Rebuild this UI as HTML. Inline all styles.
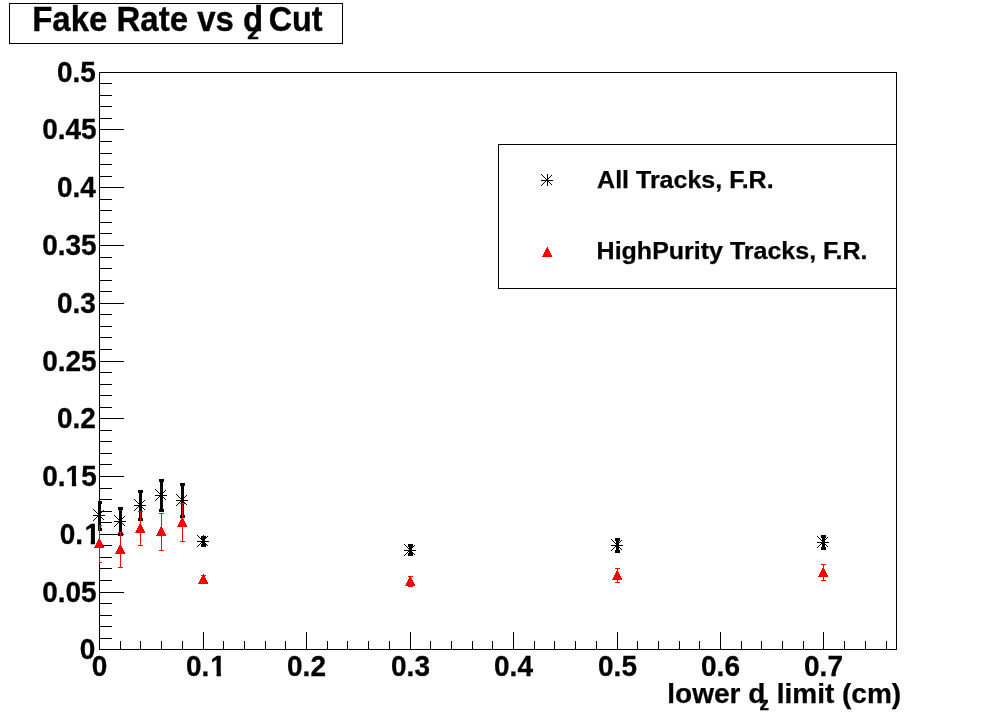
<!DOCTYPE html>
<html><head><meta charset="utf-8"><title>Fake Rate vs dz Cut</title>
<style>
html,body{margin:0;padding:0;background:#fff;overflow:hidden}
svg{display:block}
text{stroke:#000;stroke-width:.25px;font-family:"Liberation Sans",sans-serif;font-weight:bold;fill:#000;font-kerning:none}
text.s{stroke-width:.35px}
text.t{stroke-width:.3px}
</style></head><body>
<svg width="996" height="722" viewBox="0 0 996 722">
<defs><clipPath id="one"><path d="M-6 -32H28V-5H11.35V2H6.75V-5H-6Z"/></clipPath></defs>
<rect x="0" y="0" width="996" height="722" fill="#fff"/>
<g shape-rendering="crispEdges">
<rect x="99" y="72" width="798" height="1" fill="#000"/>
<rect x="99" y="649" width="798" height="1" fill="#000"/>
<rect x="99" y="72" width="1" height="578" fill="#000"/>
<rect x="896" y="72" width="1" height="578" fill="#000"/>
<rect x="100" y="649" width="24" height="1" fill="#000"/>
<rect x="100" y="638" width="12" height="1" fill="#000"/>
<rect x="100" y="626" width="12" height="1" fill="#000"/>
<rect x="100" y="615" width="12" height="1" fill="#000"/>
<rect x="100" y="603" width="12" height="1" fill="#000"/>
<rect x="100" y="592" width="24" height="1" fill="#000"/>
<rect x="100" y="580" width="12" height="1" fill="#000"/>
<rect x="100" y="568" width="12" height="1" fill="#000"/>
<rect x="100" y="557" width="12" height="1" fill="#000"/>
<rect x="100" y="545" width="12" height="1" fill="#000"/>
<rect x="100" y="534" width="24" height="1" fill="#000"/>
<rect x="100" y="522" width="12" height="1" fill="#000"/>
<rect x="100" y="511" width="12" height="1" fill="#000"/>
<rect x="100" y="499" width="12" height="1" fill="#000"/>
<rect x="100" y="488" width="12" height="1" fill="#000"/>
<rect x="100" y="476" width="24" height="1" fill="#000"/>
<rect x="100" y="464" width="12" height="1" fill="#000"/>
<rect x="100" y="453" width="12" height="1" fill="#000"/>
<rect x="100" y="441" width="12" height="1" fill="#000"/>
<rect x="100" y="430" width="12" height="1" fill="#000"/>
<rect x="100" y="418" width="24" height="1" fill="#000"/>
<rect x="100" y="407" width="12" height="1" fill="#000"/>
<rect x="100" y="395" width="12" height="1" fill="#000"/>
<rect x="100" y="384" width="12" height="1" fill="#000"/>
<rect x="100" y="372" width="12" height="1" fill="#000"/>
<rect x="100" y="361" width="24" height="1" fill="#000"/>
<rect x="100" y="349" width="12" height="1" fill="#000"/>
<rect x="100" y="337" width="12" height="1" fill="#000"/>
<rect x="100" y="326" width="12" height="1" fill="#000"/>
<rect x="100" y="314" width="12" height="1" fill="#000"/>
<rect x="100" y="303" width="24" height="1" fill="#000"/>
<rect x="100" y="291" width="12" height="1" fill="#000"/>
<rect x="100" y="280" width="12" height="1" fill="#000"/>
<rect x="100" y="268" width="12" height="1" fill="#000"/>
<rect x="100" y="257" width="12" height="1" fill="#000"/>
<rect x="100" y="245" width="24" height="1" fill="#000"/>
<rect x="100" y="233" width="12" height="1" fill="#000"/>
<rect x="100" y="222" width="12" height="1" fill="#000"/>
<rect x="100" y="210" width="12" height="1" fill="#000"/>
<rect x="100" y="199" width="12" height="1" fill="#000"/>
<rect x="100" y="187" width="24" height="1" fill="#000"/>
<rect x="100" y="176" width="12" height="1" fill="#000"/>
<rect x="100" y="164" width="12" height="1" fill="#000"/>
<rect x="100" y="153" width="12" height="1" fill="#000"/>
<rect x="100" y="141" width="12" height="1" fill="#000"/>
<rect x="100" y="129" width="24" height="1" fill="#000"/>
<rect x="100" y="118" width="12" height="1" fill="#000"/>
<rect x="100" y="106" width="12" height="1" fill="#000"/>
<rect x="100" y="95" width="12" height="1" fill="#000"/>
<rect x="100" y="83" width="12" height="1" fill="#000"/>
<rect x="100" y="72" width="24" height="1" fill="#000"/>
<rect x="99" y="632" width="1" height="17" fill="#000"/>
<rect x="120" y="641" width="1" height="8" fill="#000"/>
<rect x="140" y="641" width="1" height="8" fill="#000"/>
<rect x="161" y="641" width="1" height="8" fill="#000"/>
<rect x="182" y="641" width="1" height="8" fill="#000"/>
<rect x="203" y="632" width="1" height="17" fill="#000"/>
<rect x="223" y="641" width="1" height="8" fill="#000"/>
<rect x="244" y="641" width="1" height="8" fill="#000"/>
<rect x="265" y="641" width="1" height="8" fill="#000"/>
<rect x="285" y="641" width="1" height="8" fill="#000"/>
<rect x="306" y="632" width="1" height="17" fill="#000"/>
<rect x="327" y="641" width="1" height="8" fill="#000"/>
<rect x="347" y="641" width="1" height="8" fill="#000"/>
<rect x="368" y="641" width="1" height="8" fill="#000"/>
<rect x="389" y="641" width="1" height="8" fill="#000"/>
<rect x="410" y="632" width="1" height="17" fill="#000"/>
<rect x="430" y="641" width="1" height="8" fill="#000"/>
<rect x="451" y="641" width="1" height="8" fill="#000"/>
<rect x="472" y="641" width="1" height="8" fill="#000"/>
<rect x="492" y="641" width="1" height="8" fill="#000"/>
<rect x="513" y="632" width="1" height="17" fill="#000"/>
<rect x="534" y="641" width="1" height="8" fill="#000"/>
<rect x="554" y="641" width="1" height="8" fill="#000"/>
<rect x="575" y="641" width="1" height="8" fill="#000"/>
<rect x="596" y="641" width="1" height="8" fill="#000"/>
<rect x="617" y="632" width="1" height="17" fill="#000"/>
<rect x="637" y="641" width="1" height="8" fill="#000"/>
<rect x="658" y="641" width="1" height="8" fill="#000"/>
<rect x="679" y="641" width="1" height="8" fill="#000"/>
<rect x="699" y="641" width="1" height="8" fill="#000"/>
<rect x="720" y="632" width="1" height="17" fill="#000"/>
<rect x="741" y="641" width="1" height="8" fill="#000"/>
<rect x="761" y="641" width="1" height="8" fill="#000"/>
<rect x="782" y="641" width="1" height="8" fill="#000"/>
<rect x="803" y="641" width="1" height="8" fill="#000"/>
<rect x="823" y="632" width="1" height="17" fill="#000"/>
<rect x="844" y="641" width="1" height="8" fill="#000"/>
<rect x="865" y="641" width="1" height="8" fill="#000"/>
<rect x="886" y="641" width="1" height="8" fill="#000"/>
<rect x="9" y="3" width="334" height="1" fill="#000"/>
<rect x="9" y="43" width="334" height="1" fill="#000"/>
<rect x="9" y="3" width="1" height="41" fill="#000"/>
<rect x="342" y="3" width="1" height="41" fill="#000"/>
<rect x="498" y="144" width="399" height="1" fill="#000"/>
<rect x="498" y="288" width="399" height="1" fill="#000"/>
<rect x="498" y="144" width="1" height="145" fill="#000"/>
<rect x="896" y="144" width="1" height="145" fill="#000"/>
<g id="black">
<rect x="98" y="501" width="3" height="30" fill="#000"/>
<rect x="98" y="501" width="4" height="3" fill="#000"/>
<rect x="98" y="528" width="4" height="3" fill="#000"/>
<rect x="93" y="515" width="12" height="1" fill="#000"/>
<rect x="99" y="509" width="1" height="12" fill="#000"/>
<path d="M93 509h1v1h-1zM94 510h1v1h-1zM95 511h1v1h-1zM96 512h1v1h-1zM97 513h1v1h-1zM98 514h1v1h-1zM99 515h1v1h-1zM100 516h1v1h-1zM101 517h1v1h-1zM102 518h1v1h-1zM103 519h1v1h-1zM93 520h1v1h-1zM94 519h1v1h-1zM95 518h1v1h-1zM96 517h1v1h-1zM97 516h1v1h-1zM98 515h1v1h-1zM99 514h1v1h-1zM100 513h1v1h-1zM101 512h1v1h-1zM102 511h1v1h-1zM103 510h1v1h-1z" fill="#000"/>
<rect x="119" y="507" width="3" height="29" fill="#000"/>
<rect x="118" y="507" width="5" height="3" fill="#000"/>
<rect x="118" y="533" width="5" height="3" fill="#000"/>
<rect x="114" y="521" width="12" height="1" fill="#000"/>
<rect x="120" y="515" width="1" height="12" fill="#000"/>
<path d="M114 515h1v1h-1zM115 516h1v1h-1zM116 517h1v1h-1zM117 518h1v1h-1zM118 519h1v1h-1zM119 520h1v1h-1zM120 521h1v1h-1zM121 522h1v1h-1zM122 523h1v1h-1zM123 524h1v1h-1zM124 525h1v1h-1zM114 526h1v1h-1zM115 525h1v1h-1zM116 524h1v1h-1zM117 523h1v1h-1zM118 522h1v1h-1zM119 521h1v1h-1zM120 520h1v1h-1zM121 519h1v1h-1zM122 518h1v1h-1zM123 517h1v1h-1zM124 516h1v1h-1z" fill="#000"/>
<rect x="139" y="490" width="3" height="31" fill="#000"/>
<rect x="138" y="490" width="5" height="3" fill="#000"/>
<rect x="138" y="518" width="5" height="3" fill="#000"/>
<rect x="134" y="505" width="12" height="1" fill="#000"/>
<rect x="140" y="499" width="1" height="12" fill="#000"/>
<path d="M134 499h1v1h-1zM135 500h1v1h-1zM136 501h1v1h-1zM137 502h1v1h-1zM138 503h1v1h-1zM139 504h1v1h-1zM140 505h1v1h-1zM141 506h1v1h-1zM142 507h1v1h-1zM143 508h1v1h-1zM144 509h1v1h-1zM134 510h1v1h-1zM135 509h1v1h-1zM136 508h1v1h-1zM137 507h1v1h-1zM138 506h1v1h-1zM139 505h1v1h-1zM140 504h1v1h-1zM141 503h1v1h-1zM142 502h1v1h-1zM143 501h1v1h-1zM144 500h1v1h-1z" fill="#000"/>
<rect x="160" y="479" width="3" height="33" fill="#000"/>
<rect x="159" y="479" width="5" height="3" fill="#000"/>
<rect x="159" y="509" width="5" height="3" fill="#000"/>
<rect x="155" y="495" width="12" height="1" fill="#000"/>
<rect x="161" y="489" width="1" height="12" fill="#000"/>
<path d="M155 489h1v1h-1zM156 490h1v1h-1zM157 491h1v1h-1zM158 492h1v1h-1zM159 493h1v1h-1zM160 494h1v1h-1zM161 495h1v1h-1zM162 496h1v1h-1zM163 497h1v1h-1zM164 498h1v1h-1zM165 499h1v1h-1zM155 500h1v1h-1zM156 499h1v1h-1zM157 498h1v1h-1zM158 497h1v1h-1zM159 496h1v1h-1zM160 495h1v1h-1zM161 494h1v1h-1zM162 493h1v1h-1zM163 492h1v1h-1zM164 491h1v1h-1zM165 490h1v1h-1z" fill="#000"/>
<rect x="181" y="483" width="3" height="35" fill="#000"/>
<rect x="180" y="483" width="5" height="3" fill="#000"/>
<rect x="180" y="515" width="5" height="3" fill="#000"/>
<rect x="176" y="500" width="12" height="1" fill="#000"/>
<rect x="182" y="494" width="1" height="12" fill="#000"/>
<path d="M176 494h1v1h-1zM177 495h1v1h-1zM178 496h1v1h-1zM179 497h1v1h-1zM180 498h1v1h-1zM181 499h1v1h-1zM182 500h1v1h-1zM183 501h1v1h-1zM184 502h1v1h-1zM185 503h1v1h-1zM186 504h1v1h-1zM176 505h1v1h-1zM177 504h1v1h-1zM178 503h1v1h-1zM179 502h1v1h-1zM180 501h1v1h-1zM181 500h1v1h-1zM182 499h1v1h-1zM183 498h1v1h-1zM184 497h1v1h-1zM185 496h1v1h-1zM186 495h1v1h-1z" fill="#000"/>
<rect x="202" y="536" width="3" height="11" fill="#000"/>
<rect x="201" y="536" width="5" height="3" fill="#000"/>
<rect x="201" y="544" width="5" height="3" fill="#000"/>
<rect x="197" y="541" width="12" height="1" fill="#000"/>
<rect x="203" y="535" width="1" height="12" fill="#000"/>
<path d="M197 535h1v1h-1zM198 536h1v1h-1zM199 537h1v1h-1zM200 538h1v1h-1zM201 539h1v1h-1zM202 540h1v1h-1zM203 541h1v1h-1zM204 542h1v1h-1zM205 543h1v1h-1zM206 544h1v1h-1zM207 545h1v1h-1zM197 546h1v1h-1zM198 545h1v1h-1zM199 544h1v1h-1zM200 543h1v1h-1zM201 542h1v1h-1zM202 541h1v1h-1zM203 540h1v1h-1zM204 539h1v1h-1zM205 538h1v1h-1zM206 537h1v1h-1zM207 536h1v1h-1z" fill="#000"/>
<rect x="409" y="544" width="3" height="12" fill="#000"/>
<rect x="408" y="544" width="5" height="3" fill="#000"/>
<rect x="408" y="553" width="5" height="3" fill="#000"/>
<rect x="404" y="550" width="12" height="1" fill="#000"/>
<rect x="410" y="544" width="1" height="12" fill="#000"/>
<path d="M404 544h1v1h-1zM405 545h1v1h-1zM406 546h1v1h-1zM407 547h1v1h-1zM408 548h1v1h-1zM409 549h1v1h-1zM410 550h1v1h-1zM411 551h1v1h-1zM412 552h1v1h-1zM413 553h1v1h-1zM414 554h1v1h-1zM404 555h1v1h-1zM405 554h1v1h-1zM406 553h1v1h-1zM407 552h1v1h-1zM408 551h1v1h-1zM409 550h1v1h-1zM410 549h1v1h-1zM411 548h1v1h-1zM412 547h1v1h-1zM413 546h1v1h-1zM414 545h1v1h-1z" fill="#000"/>
<rect x="616" y="538" width="3" height="15" fill="#000"/>
<rect x="615" y="538" width="5" height="3" fill="#000"/>
<rect x="615" y="550" width="5" height="3" fill="#000"/>
<rect x="611" y="545" width="12" height="1" fill="#000"/>
<rect x="617" y="539" width="1" height="12" fill="#000"/>
<path d="M611 539h1v1h-1zM612 540h1v1h-1zM613 541h1v1h-1zM614 542h1v1h-1zM615 543h1v1h-1zM616 544h1v1h-1zM617 545h1v1h-1zM618 546h1v1h-1zM619 547h1v1h-1zM620 548h1v1h-1zM621 549h1v1h-1zM611 550h1v1h-1zM612 549h1v1h-1zM613 548h1v1h-1zM614 547h1v1h-1zM615 546h1v1h-1zM616 545h1v1h-1zM617 544h1v1h-1zM618 543h1v1h-1zM619 542h1v1h-1zM620 541h1v1h-1zM621 540h1v1h-1z" fill="#000"/>
<rect x="822" y="535" width="3" height="15" fill="#000"/>
<rect x="821" y="535" width="5" height="3" fill="#000"/>
<rect x="821" y="547" width="5" height="3" fill="#000"/>
<rect x="817" y="542" width="12" height="1" fill="#000"/>
<rect x="823" y="536" width="1" height="12" fill="#000"/>
<path d="M817 536h1v1h-1zM818 537h1v1h-1zM819 538h1v1h-1zM820 539h1v1h-1zM821 540h1v1h-1zM822 541h1v1h-1zM823 542h1v1h-1zM824 543h1v1h-1zM825 544h1v1h-1zM826 545h1v1h-1zM827 546h1v1h-1zM817 547h1v1h-1zM818 546h1v1h-1zM819 545h1v1h-1zM820 544h1v1h-1zM821 543h1v1h-1zM822 542h1v1h-1zM823 541h1v1h-1zM824 540h1v1h-1zM825 539h1v1h-1zM826 538h1v1h-1zM827 537h1v1h-1z" fill="#000"/>
</g><g id="red">
<rect x="99" y="525" width="1" height="38" fill="#f00"/>
<rect x="99" y="525" width="3" height="1" fill="#f00"/>
<rect x="99" y="562" width="3" height="1" fill="#f00"/>
<path d="M99 538h1v1h-1zM98 539h2v1h-2zM98 540h3v1h-3zM97 541h4v1h-4zM97 542h5v1h-5zM96 543h6v1h-6zM96 544h7v1h-7zM95 545h8v1h-8zM95 546h9v1h-9zM94 547h10v1h-10z" fill="#f00"/>
<rect x="120" y="532" width="1" height="36" fill="#f00"/>
<rect x="118" y="532" width="5" height="1" fill="#f00"/>
<rect x="118" y="567" width="5" height="1" fill="#f00"/>
<path d="M120 544h1v1h-1zM119 545h2v1h-2zM119 546h3v1h-3zM118 547h4v1h-4zM118 548h5v1h-5zM117 549h6v1h-6zM117 550h7v1h-7zM116 551h8v1h-8zM116 552h9v1h-9zM115 553h10v1h-10z" fill="#f00"/>
<rect x="140" y="511" width="1" height="35" fill="#f00"/>
<rect x="138" y="511" width="5" height="1" fill="#f00"/>
<rect x="138" y="545" width="5" height="1" fill="#f00"/>
<path d="M140 523h1v1h-1zM139 524h2v1h-2zM139 525h3v1h-3zM138 526h4v1h-4zM138 527h5v1h-5zM137 528h6v1h-6zM137 529h7v1h-7zM136 530h8v1h-8zM136 531h9v1h-9zM135 532h10v1h-10z" fill="#f00"/>
<rect x="161" y="513" width="1" height="38" fill="#f00"/>
<rect x="159" y="513" width="5" height="1" fill="#f00"/>
<rect x="159" y="550" width="5" height="1" fill="#f00"/>
<path d="M161 526h1v1h-1zM160 527h2v1h-2zM160 528h3v1h-3zM159 529h4v1h-4zM159 530h5v1h-5zM158 531h6v1h-6zM158 532h7v1h-7zM157 533h8v1h-8zM157 534h9v1h-9zM156 535h10v1h-10z" fill="#f00"/>
<rect x="182" y="503" width="1" height="39" fill="#f00"/>
<rect x="180" y="503" width="5" height="1" fill="#f00"/>
<rect x="180" y="541" width="5" height="1" fill="#f00"/>
<path d="M182 517h1v1h-1zM181 518h2v1h-2zM181 519h3v1h-3zM180 520h4v1h-4zM180 521h5v1h-5zM179 522h6v1h-6zM179 523h7v1h-7zM178 524h8v1h-8zM178 525h9v1h-9zM177 526h10v1h-10z" fill="#f00"/>
<rect x="203" y="575" width="1" height="9" fill="#f00"/>
<rect x="201" y="575" width="5" height="1" fill="#f00"/>
<rect x="201" y="583" width="5" height="1" fill="#f00"/>
<path d="M203 574h1v1h-1zM202 575h2v1h-2zM202 576h3v1h-3zM201 577h4v1h-4zM201 578h5v1h-5zM200 579h6v1h-6zM200 580h7v1h-7zM199 581h8v1h-8zM199 582h9v1h-9zM198 583h10v1h-10z" fill="#f00"/>
<rect x="410" y="576" width="1" height="11" fill="#f00"/>
<rect x="408" y="576" width="5" height="1" fill="#f00"/>
<rect x="408" y="586" width="5" height="1" fill="#f00"/>
<path d="M410 576h1v1h-1zM409 577h2v1h-2zM409 578h3v1h-3zM408 579h4v1h-4zM408 580h5v1h-5zM407 581h6v1h-6zM407 582h7v1h-7zM406 583h8v1h-8zM406 584h9v1h-9zM405 585h10v1h-10z" fill="#f00"/>
<rect x="617" y="568" width="1" height="15" fill="#f00"/>
<rect x="615" y="568" width="5" height="1" fill="#f00"/>
<rect x="615" y="582" width="5" height="1" fill="#f00"/>
<path d="M617 570h1v1h-1zM616 571h2v1h-2zM616 572h3v1h-3zM615 573h4v1h-4zM615 574h5v1h-5zM614 575h6v1h-6zM614 576h7v1h-7zM613 577h8v1h-8zM613 578h9v1h-9zM612 579h10v1h-10z" fill="#f00"/>
<rect x="823" y="564" width="1" height="17" fill="#f00"/>
<rect x="821" y="564" width="5" height="1" fill="#f00"/>
<rect x="821" y="580" width="5" height="1" fill="#f00"/>
<path d="M823 567h1v1h-1zM822 568h2v1h-2zM822 569h3v1h-3zM821 570h4v1h-4zM821 571h5v1h-5zM820 572h6v1h-6zM820 573h7v1h-7zM819 574h8v1h-8zM819 575h9v1h-9zM818 576h10v1h-10z" fill="#f00"/>
</g>
<rect x="541" y="180" width="12" height="1" fill="#000"/>
<rect x="547" y="174" width="1" height="12" fill="#000"/>
<path d="M541 174h1v1h-1zM542 175h1v1h-1zM543 176h1v1h-1zM544 177h1v1h-1zM545 178h1v1h-1zM546 179h1v1h-1zM547 180h1v1h-1zM548 181h1v1h-1zM549 182h1v1h-1zM550 183h1v1h-1zM551 184h1v1h-1zM541 185h1v1h-1zM542 184h1v1h-1zM543 183h1v1h-1zM544 182h1v1h-1zM545 181h1v1h-1zM546 180h1v1h-1zM547 179h1v1h-1zM548 178h1v1h-1zM549 177h1v1h-1zM550 176h1v1h-1zM551 175h1v1h-1z" fill="#000"/>
<path d="M547 247h1v1h-1zM546 248h2v1h-2zM546 249h3v1h-3zM545 250h4v1h-4zM545 251h5v1h-5zM544 252h6v1h-6zM544 253h7v1h-7zM543 254h8v1h-8zM543 255h9v1h-9zM542 256h10v1h-10z" fill="#f00"/>
</g>
<g>
<text transform="translate(79.83,658.8) scale(0.9333,1)" font-size="30" class="t">0</text>
<text transform="translate(42.21,601.8) scale(0.9333,1)" font-size="30" class="t">0.05</text>
<text transform="translate(59.78,543.8) scale(0.9333,1)" font-size="30" class="t">0.</text>
<text transform="translate(84.43,543.8) scale(0.9333,1)" font-size="30" class="t" clip-path="url(#one)">1</text>
<text transform="translate(42.21,485.8) scale(0.9333,1)" font-size="30" class="t">0.</text>
<text transform="translate(65.56,485.8) scale(0.9333,1)" font-size="30" class="t" clip-path="url(#one)">1</text>
<text transform="translate(81.13,485.8) scale(0.9333,1)" font-size="30" class="t">5</text>
<text transform="translate(56.98,427.8) scale(0.9333,1)" font-size="30" class="t">0.2</text>
<text transform="translate(42.21,370.8) scale(0.9333,1)" font-size="30" class="t">0.25</text>
<text transform="translate(56.98,312.8) scale(0.9333,1)" font-size="30" class="t">0.3</text>
<text transform="translate(42.21,254.8) scale(0.9333,1)" font-size="30" class="t">0.35</text>
<text transform="translate(56.98,196.8) scale(0.9333,1)" font-size="30" class="t">0.4</text>
<text transform="translate(42.21,138.8) scale(0.9333,1)" font-size="30" class="t">0.45</text>
<text transform="translate(56.98,81.8) scale(0.9333,1)" font-size="30" class="t">0.5</text>
<text transform="translate(91.72,676.2) scale(0.9333,1)" font-size="30" class="t">0</text>
<text transform="translate(185.94,676.2) scale(0.9333,1)" font-size="30" class="t">0.</text>
<text transform="translate(210.29,676.2) scale(0.9333,1)" font-size="30" class="t" clip-path="url(#one)">1</text>
<text transform="translate(287.04,676.2) scale(0.9333,1)" font-size="30" class="t">0.2</text>
<text transform="translate(391.04,676.2) scale(0.9333,1)" font-size="30" class="t">0.3</text>
<text transform="translate(494.04,676.2) scale(0.9333,1)" font-size="30" class="t">0.4</text>
<text transform="translate(598.04,676.2) scale(0.9333,1)" font-size="30" class="t">0.5</text>
<text transform="translate(701.04,676.2) scale(0.9333,1)" font-size="30" class="t">0.6</text>
<text transform="translate(804.04,676.2) scale(0.9333,1)" font-size="30" class="t">0.7</text>
<text x="667.3" y="702.5" font-size="28">lower d</text>
<text transform="translate(759.6,710) scale(1.07,1)" font-size="17.6" style="stroke-width:.5px">z</text>
<text x="776.7" y="702.5" font-size="28">limit (cm)</text>
<text transform="translate(32.2,31) scale(0.9429,1)" font-size="35" class="s">Fake Rate vs d</text>
<text transform="translate(247.2,38.7) scale(1.2,1)" font-size="19" style="stroke-width:.7px">z</text>
<text transform="translate(268.7,31) scale(0.925,1)" font-size="35" class="s">Cut</text>
<text x="597.1" y="188" font-size="24.4" textLength="176.5" lengthAdjust="spacingAndGlyphs" style="font-kerning:normal">All Tracks, F.R.</text>
<text x="596.6" y="258.6" font-size="24.4" textLength="270.9" lengthAdjust="spacingAndGlyphs" style="font-kerning:normal">HighPurity Tracks, F.R.</text>
</g>
</svg></body></html>
